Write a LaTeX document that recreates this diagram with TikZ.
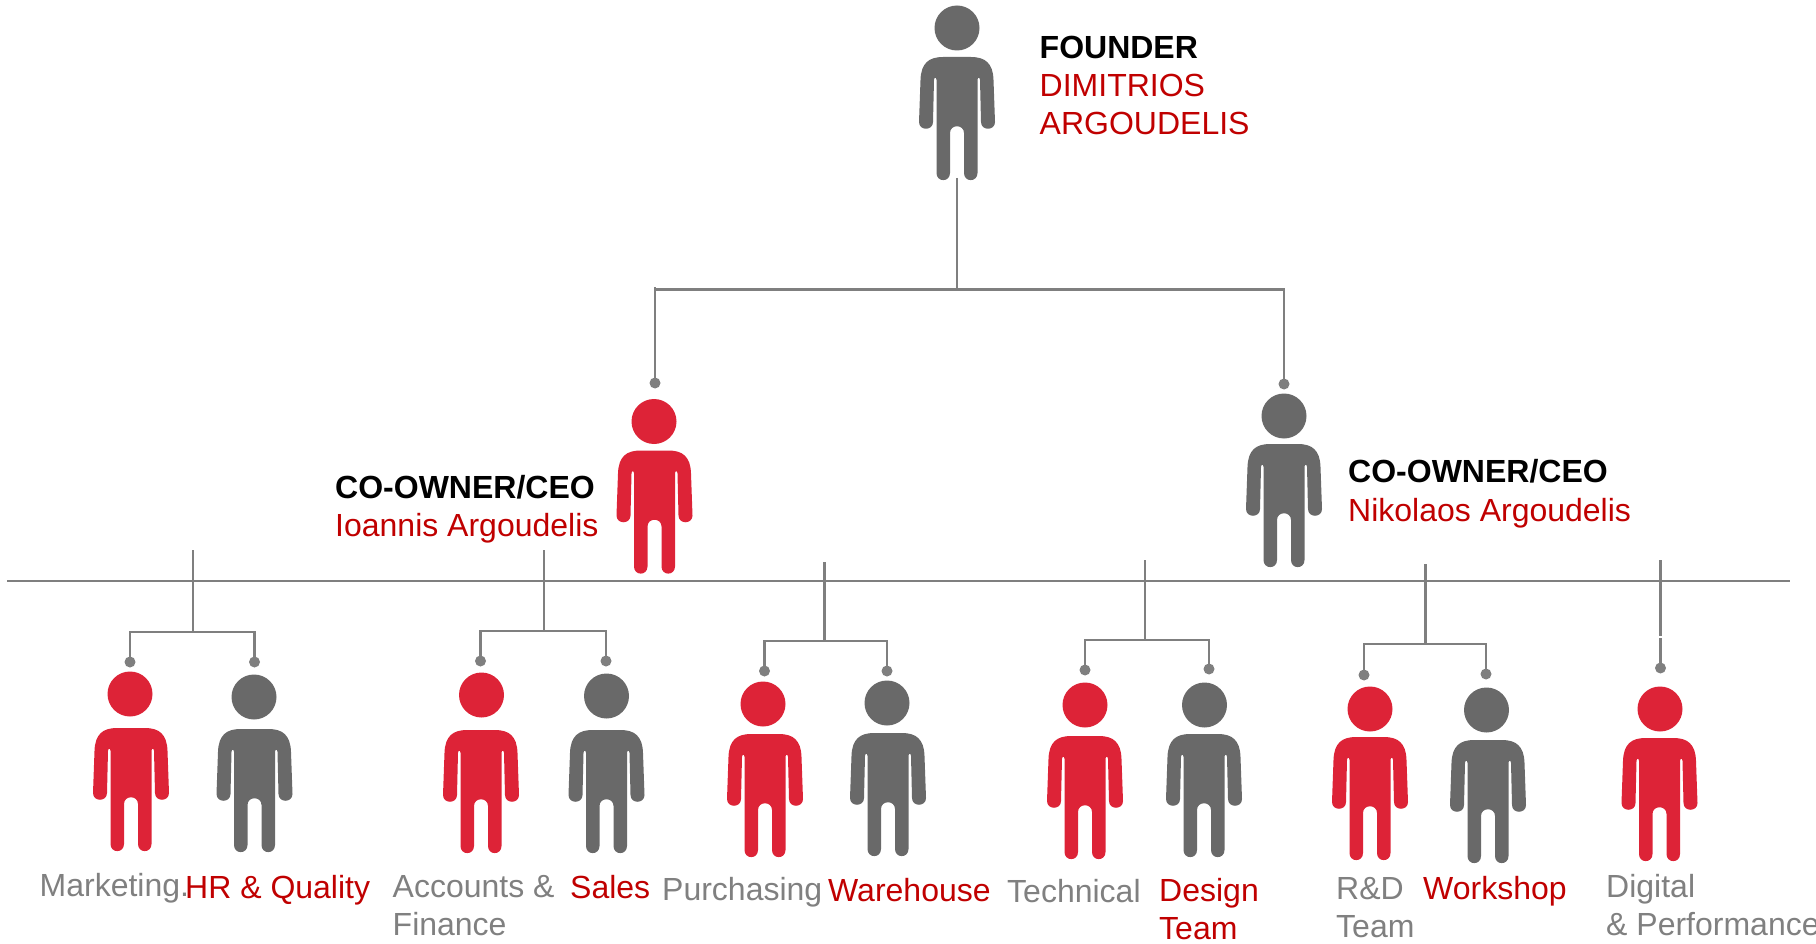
\documentclass[tikz,border=0pt]{standalone}
\usepackage{fontspec}
\setmainfont{Liberation Sans}
\definecolor{figred}{HTML}{DD2337}
\definecolor{figgray}{HTML}{696969}
\definecolor{linegray}{HTML}{7F7F7F}
\definecolor{txtred}{HTML}{C00000}
\definecolor{txtgray}{HTML}{808080}
\tikzset{
  x=1pt,y=-1pt,
  conn/.style={draw=linegray,line width=2.9pt,line join=miter},
  dotend/.style={circle,fill=linegray,inner sep=0pt,minimum size=11pt},
  lab/.style={anchor=base west,inner sep=0pt,align=left,font=\fontsize{32}{38}\selectfont},
  title/.style={lab,text=black,font=\fontsize{32}{38}\selectfont\bfseries},
  namered/.style={lab,text=txtred},
  namegray/.style={lab,text=txtgray},
  pics/person/.style n args={3}{code={
    \node[circle,fill=#1,inner sep=0pt,minimum size=45pt] (-head) at (0,0) {};
    \fill[#1,shift={(#2,#3)}] (0,29) -- (14,29) .. controls (28,29) and (36,35) .. (36.5,52)
      -- (38,94) .. controls (38,103) and (24,103) .. (24,94)
      -- (23,52) .. controls (23,49) and (20.5,49) .. (20.5,52)
      -- (20.5,145) .. controls (20.5,154.5) and (7,154.5) .. (7,145)
      -- (7,105) .. controls (7,96) and (-7,96) .. (-7,105)
      -- (-7,145) .. controls (-7,154.5) and (-20.5,154.5) .. (-20.5,145)
      -- (-20.5,52) .. controls (-20.5,49) and (-23,49) .. (-23,52)
      -- (-24,94) .. controls (-24,103) and (-38,103) .. (-38,94)
      -- (-36.5,52) .. controls (-36,35) and (-28,29) .. (-14,29) -- cycle;
  }},
}
\begin{document}
\begin{tikzpicture}
\useasboundingbox (0,0) rectangle (1816,944);
% people
\pic (founder) at (957,28) {person={figgray}{0}{0}};
\pic (ceoa) at (654,421.5) {person={figred}{0.5}{0}};
\pic (ceob) at (1284,416) {person={figgray}{0}{-1}};
\pic (p1) at (130,694) {person={figred}{1}{5}};
\pic (p2) at (254,697) {person={figgray}{0.5}{3}};
\pic (p3) at (481.5,695) {person={figred}{-0.5}{6}};
\pic (p4) at (606.5,696) {person={figgray}{0}{5}};
\pic (p5) at (763,704) {person={figred}{2}{1}};
\pic (p6) at (887,703) {person={figgray}{1}{1}};
\pic (p7) at (1085,705) {person={figred}{0}{2}};
\pic (p8) at (1204.5,705) {person={figgray}{-0.5}{0}};
\pic (p9) at (1370,709) {person={figred}{0}{-1}};
\pic (p10) at (1486.5,710) {person={figgray}{1.5}{1}};
\pic (p11) at (1660,709) {person={figred}{-0.5}{0}};
% top tree
\coordinate (stem) at (957,178);
\coordinate (stemj) at (957,289.5);
\node[dotend] (da) at (655,383) {};
\node[dotend] (db) at (1284,384) {};
\draw[conn] (stem) -- (stemj);
\draw[conn] (da.center) -- ++(0,-96) coordinate (datop);
\draw[conn] (datop |- stemj) -- (stemj) -| (db.center);
% long line
\coordinate (ruleL) at (7,581);
\coordinate (ruleR) at (1790,581);
\draw[conn] (ruleL) -- (ruleR);
% groups
\coordinate (g1t) at (193,550); \coordinate (g1j) at (193,632);
\node[dotend] (g1a) at (130,662) {}; \node[dotend] (g1b) at (254.5,662) {};
\draw[conn] (g1t) -- (g1j); \draw[conn] (g1a.center) |- (g1j) -| (g1b.center);
\coordinate (g2t) at (544,550); \coordinate (g2j) at (544,631);
\node[dotend] (g2a) at (480.5,661) {}; \node[dotend] (g2b) at (606,661) {};
\draw[conn] (g2t) -- (g2j); \draw[conn] (g2a.center) |- (g2j) -| (g2b.center);
\coordinate (g3t) at (824.5,562); \coordinate (g3j) at (824.5,641);
\node[dotend] (g3a) at (764.5,671) {}; \node[dotend] (g3b) at (887,671) {};
\draw[conn] (g3t) -- (g3j); \draw[conn] (g3a.center) |- (g3j) -| (g3b.center);
\coordinate (g4t) at (1145,560); \coordinate (g4j) at (1145,640);
\node[dotend] (g4a) at (1085,670) {}; \node[dotend] (g4b) at (1209,669) {};
\draw[conn] (g4t) -- (g4j); \draw[conn] (g4a.center) |- (g4j) -| (g4b.center);
\coordinate (g5t) at (1425.5,564); \coordinate (g5j) at (1425.5,644);
\node[dotend] (g5a) at (1364,675) {}; \node[dotend] (g5b) at (1486,674) {};
\draw[conn] (g5t) -- (g5j); \draw[conn] (g5a.center) |- (g5j) -| (g5b.center);
\coordinate (g6t) at (1660.5,560); \coordinate (g6m) at (1660.5,636);
\node[dotend] (g6a) at (1660.5,668) {};
\draw[conn] (g6t) -- (g6m); \draw[conn] (g6a.center) -- ++(0,-30.5) coordinate (g6n);
% text
\node[title] (t1) at (1039.5,58.5) {FOUNDER};
\node[namered] (t2) at (1039.5,96.5) {DIMITRIOS};
\node[namered] (t3) at (1039.5,134.5) {ARGOUDELIS};
\node[title] (t4) at (335,498) {CO-OWNER/CEO};
\node[namered] (t5) at (335,536) {Ioannis Argoudelis};
\node[title] (t6) at (1348,482) {CO-OWNER/CEO};
\node[namered] (t7) at (1348,521) {Nikolaos Argoudelis};
\node[namegray] (l1) at (39.5,896) {Marketing.};
\node[namered] (l2) at (185,898) {HR \& Quality};
\node[namegray] (l3) at (392.5,897.5) {Accounts \&};
\node[namegray] (l3b) at (392.5,935.5) {Finance};
\node[namered] (l4) at (570,898) {Sales};
\node[namegray] (l5) at (662,900.5) {Purchasing};
\node[namered] (l6) at (828,901) {Warehouse};
\node[namegray] (l7) at (1007,902) {Technical};
\node[namered] (l8) at (1159,901) {Design};
\node[namered] (l8b) at (1159,939) {Team};
\node[namegray] (l9) at (1336,899) {R\&D};
\node[namegray] (l9b) at (1336,937) {Team};
\node[namered] (l10) at (1423,899) {Workshop};
\node[namegray] (l11) at (1606,897) {Digital};
\node[namegray] (l11b) at (1606,935) {\& Performance};
\end{tikzpicture}
\end{document}
